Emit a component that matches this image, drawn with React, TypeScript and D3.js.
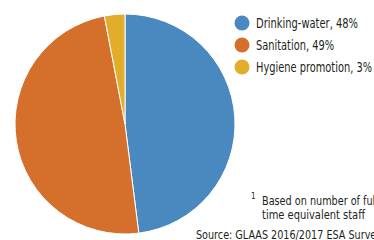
import { useEffect, useRef } from "react";
import * as d3 from "d3";

const categories = ["Drinking-water", "Sanitation", "Hygiene promotion"];
const shares = [48, 49, 3];
const colors = ["#4a89bf", "#d4702c", "#e2ad2a"];
const legendWidths = [102, 78, 116];
const footnoteLines = ["Based on number of full", "time equivalent staff"];
const footnoteWidths = [116, 103];
const source = "Source: GLAAS 2016/2017 ESA Survey";

const W = 374;
const H = 240;
const font = "'DejaVu Sans Condensed', 'DejaVu Sans', sans-serif";

export default function App() {
  const ref = useRef<SVGSVGElement>(null);

  useEffect(() => {
    const svg = d3.select(ref.current);
    svg.selectAll("*").remove();

    // pie, starts at 12 o'clock and runs clockwise
    const pie = d3.pie<number>().sort(null).value((d) => d);
    const arc = d3.arc<d3.PieArcDatum<number>>().innerRadius(0).outerRadius(110);
    svg.append("g")
      .attr("transform", "translate(125,124)")
      .selectAll("path")
      .data(pie(shares))
      .enter()
      .append("path")
      .attr("d", arc)
      .attr("fill", (d, i) => colors[i])
      .attr("stroke", "#fff")
      .attr("stroke-width", 1);

    // legend
    const y = d3.scaleBand().domain(categories).range([12, 78]);
    const leg = svg.append("g");
    leg.selectAll("circle")
      .data(categories)
      .enter()
      .append("circle")
      .attr("cx", 242)
      .attr("cy", (d) => y(d)! + y.bandwidth() / 2)
      .attr("r", 7.5)
      .attr("fill", (d, i) => colors[i]);
    leg.selectAll("text")
      .data(categories)
      .enter()
      .append("text")
      .attr("x", 256)
      .attr("y", (d) => y(d)! + y.bandwidth() / 2 + 5)
      .attr("font-family", font)
      .attr("font-stretch", "condensed")
      .attr("font-size", 14)
      .attr("fill", "#231f20")
      .attr("textLength", (d, i) => legendWidths[i])
      .attr("lengthAdjust", "spacingAndGlyphs")
      .text((d, i) => `${d}, ${shares[i]}%`);

    // footnote + source
    svg.append("text")
      .attr("x", 251)
      .attr("y", 199)
      .attr("font-family", font)
      .attr("font-size", 8)
      .attr("fill", "#231f20")
      .text("1");
    svg.selectAll(".fn")
      .data(footnoteLines)
      .enter()
      .append("text")
      .attr("class", "fn")
      .attr("x", 262)
      .attr("y", (d, i) => 205 + i * 14)
      .attr("font-family", font)
      .attr("font-stretch", "condensed")
      .attr("font-size", 13)
      .attr("fill", "#231f20")
      .attr("textLength", (d, i) => footnoteWidths[i])
      .attr("lengthAdjust", "spacingAndGlyphs")
      .text((d) => d);
    svg.append("text")
      .attr("x", 196)
      .attr("y", 239)
      .attr("font-family", font)
      .attr("font-stretch", "condensed")
      .attr("font-size", 13)
      .attr("fill", "#231f20")
      .attr("textLength", 186)
      .attr("lengthAdjust", "spacingAndGlyphs")
      .text(source);
  }, []);

  return (
    <svg ref={ref} width={W} height={H} style={{ position: "absolute", left: 0, top: 0, background: "#fff" }} />
  );
}
